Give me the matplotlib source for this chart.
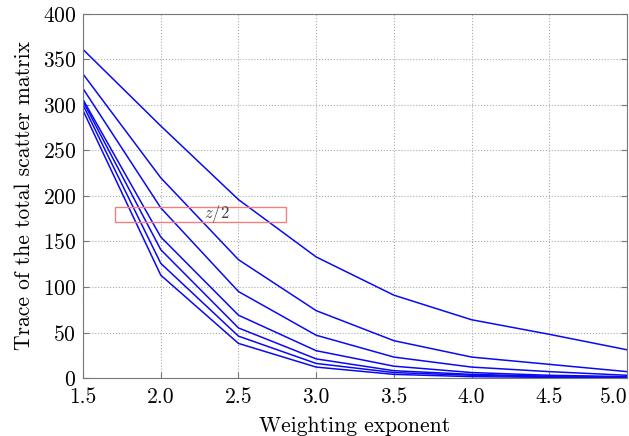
import numpy as np
import matplotlib
matplotlib.use('Agg')
import matplotlib.pyplot as plt
from matplotlib.patches import Rectangle

plt.rcParams['font.family'] = 'serif'
plt.rcParams['font.serif'] = ['cmr10', 'DejaVu Serif']
plt.rcParams['mathtext.fontset'] = 'cm'
plt.rcParams['axes.formatter.use_mathtext'] = True

# weighting exponent values
m = [1.5, 2.0, 2.5, 3.0, 3.5, 4.0, 4.5, 5.0]

# trace of the total scatter matrix, one curve per data set
trace1 = [361, 277, 196, 133, 91, 64, 48, 31]
trace2 = [334, 220, 130, 74, 41, 23, 15, 7]
trace3 = [318, 187, 95, 47, 23, 12, 7, 3]
trace4 = [306, 155, 69, 30, 13, 6, 3, 1.5]
trace5 = [304, 141, 55, 21, 8, 4, 2, 1]
trace6 = [300, 126, 46, 16, 6, 3, 1.2, 0.6]
trace7 = [294, 113, 38, 12, 4, 1.5, 0.7, 0.3]
traces = [trace1, trace2, trace3, trace4, trace5, trace6, trace7]

fig = plt.figure(figsize=(6.29, 4.36), dpi=100)
ax = fig.add_axes([0.132, 0.133, 0.865, 0.835])

for t in traces:
    ax.plot(m, t, color='#0a0af0', lw=1.1)

ax.set_xlim(1.5, 5.0)
ax.set_ylim(0, 400)
ax.set_xticks(m)
ax.set_xticklabels(['%.1f' % v for v in m])
ax.set_yticks(np.arange(0, 401, 50))
ax.grid(True, linestyle=':', color='#aaaaaa', lw=0.8)
ax.tick_params(direction='in', right=True, top=False, labelsize=15.5, color='#777777', length=4)
ax.tick_params(axis='x', pad=7)
ax.tick_params(axis='y', pad=5)
ax.get_xticklabels()[-1].set_horizontalalignment('right')
for s in ax.spines.values():
    s.set_color('#777777')

ax.set_xlabel('Weighting exponent', fontsize=15.5, labelpad=7)
ax.set_ylabel('Trace of the total scatter matrix', fontsize=15.5, labelpad=6)

# red annotation box
ax.add_patch(Rectangle((1.706, 171), 1.1, 17, fill=False, edgecolor='#f08080', lw=1.0, zorder=5))
ax.text(2.36, 180, r'$z/2$', fontsize=12, ha='center', va='center', color='#444444', zorder=6)

fig.savefig('out.png', dpi=100)
